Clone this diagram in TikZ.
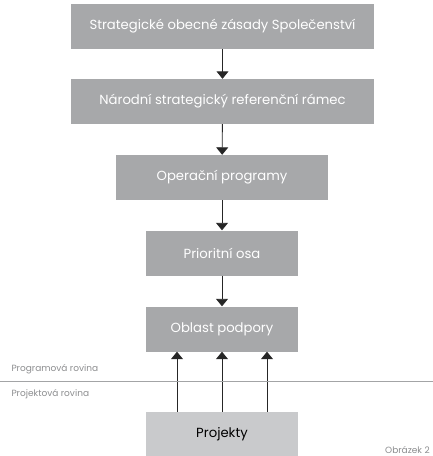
\documentclass[tikz,border=0pt]{standalone}
\usepackage{fontspec}
\setmainfont{Poppins}
\usepackage{xcolor}
\usetikzlibrary{arrows.meta}
\definecolor{boxgray}{HTML}{A7A8AA}
\definecolor{lightgray}{HTML}{C9CACC}
\definecolor{linegray}{HTML}{A3A4A6}
\definecolor{labelgray}{HTML}{8C8D8F}
\tikzset{
  level/.style={rectangle,fill=boxgray,text=white,minimum height=45pt,inner sep=0pt,font=\fontsize{13.2}{15}\selectfont},
  proj/.style={rectangle,fill=lightgray,text=black,minimum height=45pt,inner sep=0pt,font=\fontsize{13.2}{15}\selectfont},
  flow/.style={draw=black!85,line width=0.9pt,-{Triangle[width=12pt,length=7.5pt]}},
  plane/.style={text=labelgray,anchor=west,font=\fontsize{9}{10}\selectfont}
}
\begin{document}
\begin{tikzpicture}[x=1pt,y=-1pt]
\useasboundingbox (0,0) rectangle (433,456);
\node[level,minimum width=303pt] (zasady) at (222.5,26.5) {Strategické obecné zásady Společenství};
\node[level,minimum width=303pt] (ramec) at (222.5,101.5) {Národní strategický referenční rámec};
\node[level,minimum width=212pt] (programy) at (222,177.5) {Operační programy};
\node[level,minimum width=152pt] (osa) at (222,253) {Prioritní osa};
\node[level,minimum width=152pt] (oblast) at (222,329) {Oblast podpory};
\node[proj,minimum width=152pt] (projekty) at (222,434.5) {Projekty};
%%
\draw[flow] (zasady) -- (ramec);
\draw[flow] (ramec) -- (programy);
\draw[flow] (programy) -- (osa);
\draw[flow] (osa) -- (oblast);
\foreach \dx in {-45,0,45}
  \draw[flow] ([xshift=\dx pt]projekty.north) -- ([xshift=\dx pt]oblast.south);
%%
\coordinate (deleni west) at (0,381);
\coordinate (deleni east) at (433,381);
\draw[linegray,line width=0.8pt] (deleni west) -- (deleni east);
\node[plane] (programova) at (8,369) {Programová rovina};
\node[plane] (projektova) at (8,394) {Projektová rovina};
\node[plane,anchor=north west,inner sep=0pt] (obrazek) at (385,446) {Obrázek 2};
\end{tikzpicture}
\end{document}
